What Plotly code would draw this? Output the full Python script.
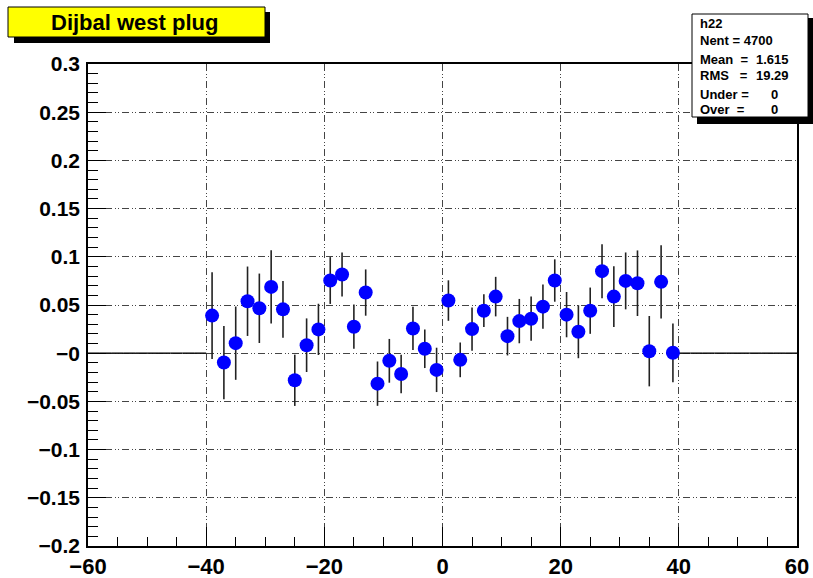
import plotly.graph_objects as go

# ---- data ----
bin_centers = [-39, -37, -35, -33, -31, -29, -27, -25, -23, -21, -19, -17, -15, -13, -11, -9, -7, -5, -3, -1,
               1, 3, 5, 7, 9, 11, 13, 15, 17, 19, 21, 23, 25, 27, 29, 31, 33, 35, 37, 39]
values = [0.039, -0.0097, 0.0104, 0.0539, 0.0466, 0.0688, 0.0455, -0.0281, 0.0083, 0.0247,
          0.0754, 0.0816, 0.0275, 0.0629, -0.0316, -0.0079, -0.0215, 0.0257, 0.0046, -0.0173,
          0.0546, -0.0069, 0.025, 0.0441, 0.0587, 0.0177, 0.0333, 0.0358, 0.0483, 0.0754,
          0.040, 0.0223, 0.0441, 0.0851, 0.0587, 0.075, 0.0726, 0.0021, 0.074, 0.0004]
errors = [0.045, 0.038, 0.038, 0.036, 0.036, 0.038, 0.0295, 0.0266, 0.0278, 0.0266,
          0.0243, 0.0229, 0.023, 0.024, 0.023, 0.0227, 0.02, 0.0225, 0.020, 0.023,
          0.021, 0.018, 0.0225, 0.017, 0.0205, 0.020, 0.023, 0.023, 0.023, 0.022,
          0.0235, 0.0275, 0.024, 0.028, 0.0315, 0.0295, 0.034, 0.0365, 0.038, 0.0305]
empty_bins = [-59, -57, -55, -53, -51, -49, -47, -45, -43, -41,
              41, 43, 45, 47, 49, 51, 53, 55, 57, 59]
empty_values = [0.0] * len(empty_bins)
bin_half_width = 1.0

x_tickvals = [-60, -40, -20, 0, 20, 40, 60]
x_ticktext = ["\u221260", "\u221240", "\u221220", "0", "20", "40", "60"]
y_tickvals = [0.3, 0.25, 0.2, 0.15, 0.1, 0.05, 0, -0.05, -0.1, -0.15, -0.2]
y_ticktext = ["0.3", "0.25", "0.2", "0.15", "0.1", "0.05", "\u22120",
              "\u22120.05", "\u22120.1", "\u22120.15", "\u22120.2"]

title_text = "Dijbal west plug"
stats_labels = ["h22", "Nent = 4700", "Mean  =", "RMS   =", "Under =", "Over  ="]
stats_values = ["", "", "1.615", "19.29", "0", "0"]

# ---- layout geometry (pixels) ----
W, H = 813, 578
L, R, T, B = 88, 797, 64, 546
def px(x):
    return (x - L) / (R - L)
def py(y):
    return (B - y) / (B - T)

FONT = "Liberation Sans, Arial, Helvetica, sans-serif"
GRID_DASH = "7px,3px,1px,2px,1px,3px"

fig = go.Figure()

# empty bins drawn as horizontal bin-width lines at zero
fig.add_trace(go.Scatter(
    x=empty_bins, y=empty_values, mode="markers",
    marker=dict(size=0.1, color="rgba(0,0,0,0)"),
    error_x=dict(type="constant", value=bin_half_width, color="#111111", thickness=1.5, width=0),
    showlegend=False, hoverinfo="skip"))

fig.add_trace(go.Scatter(
    x=bin_centers, y=values, mode="markers",
    marker=dict(size=14, color="#0000ff", line=dict(width=0)),
    error_y=dict(type="data", array=errors, color="#222222", thickness=1.6, width=0),
    showlegend=False))

fig.update_xaxes(
    range=[-60, 60], tickvals=x_tickvals, ticktext=x_ticktext,
    ticks="inside", ticklen=19, tickwidth=1, tickcolor="black",
    minor=dict(ticks="inside", ticklen=9, dtick=5, tick0=0, tickcolor="black", showgrid=False),
    showgrid=True, gridcolor="#444444", gridwidth=1, griddash=GRID_DASH,
    showline=True, linecolor="black", linewidth=1.5, mirror=True,
    zeroline=False,
    tickfont=dict(family=FONT, size=22, color="black", weight="bold"),
)
fig.update_yaxes(
    range=[-0.2, 0.3], tickvals=y_tickvals, ticktext=y_ticktext,
    ticks="inside", ticklen=18, tickwidth=1, tickcolor="black",
    minor=dict(ticks="inside", ticklen=10, dtick=0.01, tick0=0, tickcolor="black", showgrid=False),
    showgrid=True, gridcolor="#444444", gridwidth=1, griddash=GRID_DASH,
    showline=True, linecolor="black", linewidth=1.5, mirror=True,
    zeroline=False, ticklabelstandoff=2,
    tickfont=dict(family=FONT, size=21, color="black", weight="bold"),
)

shapes = []
# title box shadow + box
shapes.append(dict(type="rect", xref="paper", yref="paper",
                   x0=px(14), x1=px(270), y0=py(43), y1=py(12),
                   fillcolor="black", line=dict(width=0), layer="above"))
shapes.append(dict(type="rect", xref="paper", yref="paper",
                   x0=px(8), x1=px(265), y0=py(37), y1=py(7),
                   fillcolor="#ffff00", line=dict(color="black", width=1), layer="above"))
# stats box shadow + box
shapes.append(dict(type="rect", xref="paper", yref="paper",
                   x0=px(697), x1=px(813), y0=py(124), y1=py(18),
                   fillcolor="black", line=dict(width=0), layer="above"))
shapes.append(dict(type="rect", xref="paper", yref="paper",
                   x0=px(692), x1=px(808), y0=py(117), y1=py(14),
                   fillcolor="white", line=dict(color="black", width=1), layer="above"))

annotations = []
annotations.append(dict(text=title_text, xref="paper", yref="paper",
                        x=px(134), y=py(22), xanchor="center", yanchor="middle",
                        showarrow=False,
                        font=dict(family=FONT, size=22, color="black", weight="bold")))
line_y = [23, 41, 59, 75, 94, 109]
value_right = [0, 0, 791, 791, 780, 780]
for lab, val, yy, xr in zip(stats_labels, stats_values, line_y, value_right):
    annotations.append(dict(text=lab, xref="paper", yref="paper", x=px(698), y=py(yy),
                            xanchor="left", yanchor="middle", showarrow=False,
                            font=dict(family=FONT, size=13, color="black", weight="bold")))
    if val:
        annotations.append(dict(text=val, xref="paper", yref="paper", x=px(xr), y=py(yy),
                                xanchor="right", yanchor="middle", showarrow=False,
                                font=dict(family=FONT, size=13, color="black", weight="bold")))

fig.update_layout(
    width=W, height=H,
    margin=dict(l=L, r=W - R, t=T, b=H - B, autoexpand=False),
    paper_bgcolor="white", plot_bgcolor="white",
    shapes=shapes, annotations=annotations,
    showlegend=False,
)

fig.write_html("out.html")
